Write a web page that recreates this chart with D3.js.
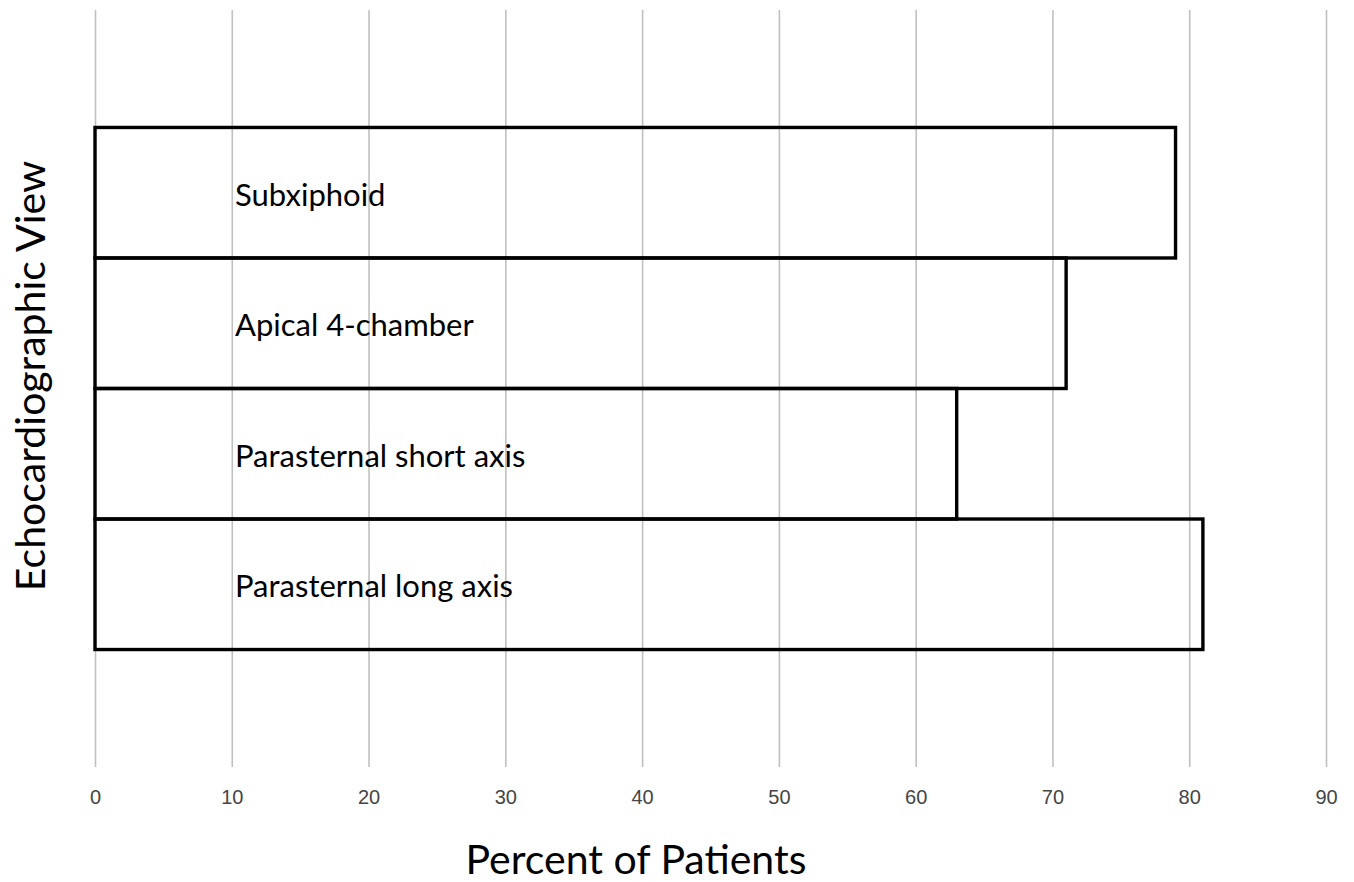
<!DOCTYPE html>
<html>
<head>
<meta charset="utf-8">
<script src="https://cdn.jsdelivr.net/npm/d3@7"></script>
<style>
    body { margin: 0; background: #fff; }
    svg { display: block; font-family: Lato, "Open Sans", sans-serif; }
    .grid line { stroke: #c0c0c0; stroke-width: 1.6; }
    .grid text { fill: #454545; font-size: 20px; }
    .bar { fill: none; stroke: #000; stroke-width: 3.4; }
    .bar-label { fill: #000; font-size: 31px; }
    .axis-title { fill: #000; font-size: 41px; }
</style>
</head>
<body>
<svg id="chart" width="1354" height="882"></svg>
<script>

// bottom to top, as in the picture
const views = ["Parasternal long axis", "Parasternal short axis", "Apical 4-chamber", "Subxiphoid"];
const percents = [81, 63, 71, 79];
const xTicks = [0, 10, 20, 30, 40, 50, 60, 70, 80, 90];
const xTitle = "Percent of Patients";
const yTitle = "Echocardiographic View";

class ViewChart {

    constructor(svg) {

        this.svg = svg;
        this.width = parseFloat(svg.attr("width"));
        this.height = parseFloat(svg.attr("height"));
        this.top = 10;
        this.bottom = 767;

        this.rows = views.map((v, i) => ({ view: v, value: percents[i] }));

        this.x = d3.scaleLinear()
            .domain([0, 90])
            .range([95, 1326]);

        this.y = d3.scaleBand()
            .domain(views)
            .range([this.bottom, this.top])
            .paddingInner(0)
            .paddingOuter(0.9);

        this.drawGrid();
        this.drawBars();
        this.drawTitles();

    }

    drawGrid() {

        let axis = d3.axisBottom(this.x)
            .tickValues(xTicks)
            .tickSize(-(this.bottom - this.top))
            .tickPadding(23);

        this.svg
            .append("g")
                .classed("grid", true)
                .attr("transform", `translate(0,${this.bottom})`)
                .call(axis)
                .call(g => g.select(".domain").remove());
    }

    drawBars() {

        let bars = this.svg
            .append("g")
                .attr("id", "bars")
                .selectAll("g.row")
                .data(this.rows)
                .enter()
                .append("g")
                    .classed("row", true);

        bars.append("rect")
            .classed("bar", true)
            .attr("x", this.x(0))
            .attr("y", d => this.y(d.view))
            .attr("width", d => this.x(d.value) - this.x(0))
            .attr("height", this.y.bandwidth());

        // labels sit inside the bars, left aligned near the 10 gridline
        bars.append("text")
            .classed("bar-label", true)
            .attr("x", this.x(0) + 140)
            .attr("y", d => this.y(d.view) + this.y.bandwidth() / 2 + 5)
            .attr("dominant-baseline", "middle")
            .text(d => d.view);
    }

    drawTitles() {

        this.svg
            .append("text")
                .classed("axis-title", true)
                .attr("x", 636)
                .attr("y", 874)
                .attr("text-anchor", "middle")
                .text(xTitle);

        this.svg
            .append("text")
                .classed("axis-title", true)
                .attr("transform", "translate(45,376) rotate(-90)")
                .attr("text-anchor", "middle")
                .text(yTitle);
    }

}

new ViewChart(d3.select("#chart"));

</script>
</body>
</html>
